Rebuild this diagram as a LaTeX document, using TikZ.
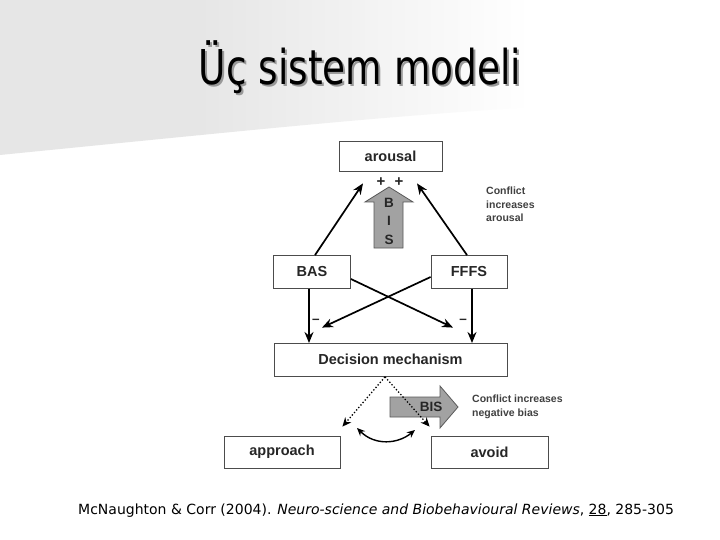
\documentclass[tikz,border=0pt]{standalone}
\usepackage{fontspec}
\setmainfont{DejaVu Sans}
\newfontfamily\diag{Liberation Sans}
\usetikzlibrary{arrows.meta,calc}
\definecolor{bgg}{HTML}{E6E6E6}
\definecolor{arrg}{HTML}{A2A2A2}
\tikzset{
  box/.style={draw=black!70,line width=0.8pt,fill=white,inner sep=0pt,font=\diag\bfseries\fontsize{14.5}{16}\selectfont,text=black!85},
  arr/.style={line width=1.7pt,-{Stealth[length=11pt,width=9pt]}},
  dotarr/.style={line width=1.3pt,dotted,-{Stealth[length=9pt,width=8pt]}},
  small/.style={font=\diag\bfseries\fontsize{10.5}{13.5}\selectfont,align=left,text=black!75,inner sep=0pt},
  fatarrow/.style={fill=arrg,draw=black!65,line width=0.8pt},
  ltr/.style={font=\diag\bfseries\fontsize{13.5}{14}\selectfont,text=black!85,inner sep=0pt}
}
\newcommand{\ttl}{Üç sistem modeli}
\begin{document}
\begin{tikzpicture}[x=1pt,y=-1pt]
\useasboundingbox (0,0) rectangle (720,540);
\fill[white] (0,0) rectangle (720,540);
\begin{scope}
\clip (0,0) -- (720,0) -- (720,95) .. controls (400,115) .. (0,155) -- cycle;
\fill[bgg] (0,0) rectangle (200,160);
\shade[left color=bgg,right color=white] (199,0) rectangle (530,160);
\end{scope}
% title
\node (title) at (360,68) {\scalebox{0.78}[1]{\fontsize{48}{54}\selectfont\rlap{\hspace{2.5pt}\raisebox{-2.5pt}{\color{black!40}\ttl}}\ttl}};
% boxes
\node[box,minimum width=103pt,minimum height=30pt] (arousal) at (390.5,156) {arousal};
\node[box,minimum width=77pt,minimum height=33pt] (BAS) at (312,272) {BAS};
\node[box,minimum width=76pt,minimum height=33pt] (FFFS) at (469,272) {FFFS};
\node[box,minimum width=233pt,minimum height=33pt] (dec) at (390.5,359.5) {Decision mechanism};
\node[box,minimum width=116pt,minimum height=32pt] (approach) at (282,452) {approach};
\node[box,minimum width=117pt,minimum height=32pt] (avoid) at (489.5,452) {avoid};
% BIS up arrow
\draw[fatarrow] (374,248) -- (374,202) -- (365,202) -- (389,187) -- (413,202) -- (403,202) -- (403,248) -- cycle;
\node[ltr] (bB) at (389,203) {B};
\node[ltr] (bI) at (389,221) {I};
\node[ltr] (bS) at (389,240) {S};
\node[ltr,font=\diag\bfseries\fontsize{15}{15}\selectfont] (p1) at (381,182) {+};
\node[ltr,font=\diag\bfseries\fontsize{15}{15}\selectfont] (p2) at (399,182) {+};
% arrows to arousal
\draw[arr] ($(BAS.north)+(3,0)$) -- ($(arousal.south)+(-27.5,12)$);
\draw[arr] ($(FFFS.north)+(-2,0)$) -- ($(arousal.south)+(26.5,12)$);
% crossing arrows
\draw[arr] ($(BAS.east)+(0,7)$) -- ($(dec.north)+(62.5,-15)$);
\draw[arr] ($(FFFS.west)+(0,5)$) -- ($(dec.north)+(-68.5,-15)$);
\node[ltr] (m1) at (316,321) {–};
\node[ltr] (m2) at (463,321) {–};
% vertical arrows
\draw[arr] (309,288.5) -- (309,343);
\draw[arr] (472,288.5) -- (472,343);
% BIS right arrow
\draw[fatarrow] (390,397) -- (440,397) -- (440,386) -- (458,407) -- (440,428) -- (440,417) -- (390,417) -- cycle;
\node[ltr] (bis2) at (431,407) {BIS};
% dotted arrows
\coordinate (dsrc) at ($(dec.south)+(-5.5,0.5)$);
\draw[dotarr] (dsrc) -- ($(approach.north east)+(2,-9)$);
\draw[dotarr] (dsrc) -- ($(avoid.north west)+(-1,-9)$);
% curved double arrow
\draw[line width=1.4pt,{Stealth[length=8pt,width=7pt]}-{Stealth[length=8pt,width=7pt]}] (357,428) .. controls (375,446) and (398,444) .. (415,430);
% notes
\node[small,anchor=north west] (n1) at (486,187) {Conflict\\increases\\arousal};
\node[small,anchor=north west] (n2) at (472,395) {Conflict increases\\negative bias};
% citation
\node[anchor=base west,font=\fontsize{14}{16}\selectfont,inner sep=0pt] (cite) at (78,514) {McNaughton \& Corr (2004). \textit{Neuro-science and Biobehavioural Reviews}, \underline{28}, 285-305};
\end{tikzpicture}
\end{document}
